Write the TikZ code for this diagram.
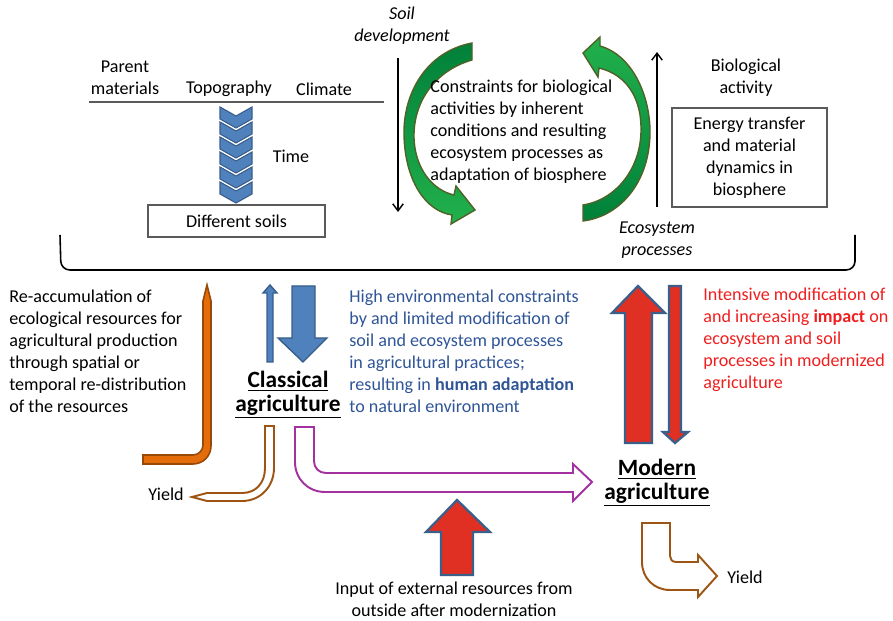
\documentclass[tikz,border=0pt]{standalone}
\usepackage{fontspec}
\setmainfont{Carlito}
\usetikzlibrary{arrows.meta,positioning}
\definecolor{chevblue}{RGB}{79,129,189}
\definecolor{chevedge}{RGB}{56,93,138}
\definecolor{arcdark}{RGB}{0,128,58}
\definecolor{arclight}{RGB}{34,177,76}
\definecolor{arcedge}{RGB}{79,98,40}
\definecolor{orangefill}{RGB}{228,108,10}
\definecolor{orangeedge}{RGB}{152,72,7}
\definecolor{yieldbrown}{RGB}{158,84,18}
\definecolor{flowpurple}{RGB}{163,50,160}
\definecolor{modred}{RGB}{224,48,36}
\definecolor{modedge}{RGB}{58,95,138}
\definecolor{classtext}{RGB}{47,85,151}
\definecolor{modtext}{RGB}{240,30,30}
\definecolor{boxgrey}{RGB}{90,90,90}

\begin{document}
\begin{tikzpicture}[x=0.02cm, y=-0.02cm,
    txt/.style={font=\fontsize{10.3}{12.5}\selectfont, inner sep=0pt, align=center},
    txtit/.style={txt, font=\fontsize{10.3}{12.5}\selectfont\itshape},
    txtleft/.style={txt, align=left, anchor=west},
    headline/.style={font=\fontsize{13.3}{13.6}\selectfont\bfseries, inner sep=0pt, align=center},
    infobox/.style={draw=boxgrey, line width=0.6pt},
    greenarc/.style={draw=arcedge, line width=0.8pt},
    bluearr/.style={fill=chevblue, draw=chevedge, line width=0.8pt},
    redarr/.style={fill=modred, draw=modedge, line width=1.3pt},
    hollowarr/.style={fill=white, line width=1.1pt},
    thinarr/.style={-{Straight Barb[length=4pt,width=6pt]}, line width=0.8pt}
]
\useasboundingbox (0,0) rectangle (893,621);

% soil formation factors
\node[txt] (parent) at (125,78) {Parent\\materials};
\node[txt] (topo) at (229,89) {Topography};
\node[txt] (climate) at (324,89) {Climate};
\coordinate (factl) at (89,102);
\coordinate (factr) at (384,102);
\draw[line width=0.7pt, boxgrey] (factl) -- (factr);
\foreach \i in {0,...,5} {
  \pgfmathsetmacro{\cy}{107+15*\i}
  \draw[bluearr, line width=0.6pt] (220,\cy) -- (236,\cy+9) -- (252,\cy) -- (252,\cy+12)
    -- (236,\cy+21) -- (220,\cy+12) -- cycle;
}
\node[txt] (time) at (291,156) {Time};
\node[infobox, txt, minimum width=3.54cm, minimum height=0.64cm] (soils) at (236.5,221) {Different soils};

% soil development and ecosystem cycle
\node[txtit] (soildev) at (402,26) {Soil\\development};
\coordinate (sdstart) at (398,58);
\coordinate (sdend) at (398,212);
\draw[thinarr] (sdstart) -- (sdend);
\draw[greenarc, top color=arcdark, bottom color=arclight]
  (472,43) .. controls (425,52) and (403,95) .. (404,135)
  .. controls (405,180) and (425,211) .. (452,215)
  -- (451,224) -- (475,210) -- (456,186) -- (454,195)
  .. controls (432,190) and (415,168) .. (414,138)
  .. controls (413,100) and (437,70) .. (472,60) -- cycle;
\draw[greenarc, top color=arclight, bottom color=arcdark]
  (583,53) -- (600,37) -- (600,46)
  .. controls (632,55) and (650,95) .. (650,132)
  .. controls (650,180) and (622,216) .. (583,221)
  -- (583,205)
  .. controls (615,200) and (640,170) .. (641,132)
  .. controls (642,100) and (628,75) .. (599,68)
  -- (598,77) -- cycle;
\node[txtleft] (constraints) at (430,132) {Constraints for biological\\activities by inherent\\conditions and resulting\\ecosystem processes as\\adaptation of biosphere};
\coordinate (bastart) at (657,207);
\coordinate (baend) at (657,52);
\draw[thinarr] (bastart) -- (baend);
\node[txt] (bioact) at (746,78) {Biological\\activity};
\node[infobox, txt, minimum width=3.1cm, minimum height=1.98cm] (energy) at (749.5,157.5) {Energy transfer\\and material\\dynamics in\\biosphere};
\node[txtit] (ecoproc) at (657,240) {Ecosystem\\processes};

% bracket
\coordinate (brl) at (60,235);
\coordinate (brbl) at (61,270);
\coordinate (brbr) at (855,270);
\coordinate (brr) at (855,235);
\draw[line width=0.9pt, rounded corners=5pt] (brl) -- (brbl) -- (brbr) -- (brr);

% classical agriculture
\node[txtleft] (reaccum) at (9,351) {Re-accumulation of\\ecological resources for\\agricultural production\\through spatial or\\temporal re-distribution\\of the resources};
\draw[fill=orangefill, draw=orangeedge, line width=0.9pt]
  (143,455) -- (193,455) .. controls (198.5,455) and (203,450.5) .. (203,445)
  -- (203,301) -- (207,285) -- (211,301) -- (211,446)
  .. controls (211,456) and (203,464) .. (193,464) -- (143,464) -- cycle;
\draw[bluearr] (267,362) -- (267,293) -- (263,293) -- (270,285) -- (277,293)
  -- (273,293) -- (273,362) -- cycle;
\draw[bluearr] (292,286) -- (315,286) -- (315,338) -- (327,338) -- (303,362)
  -- (278,338) -- (292,338) -- cycle;
\node[headline] (classical) at (288,395) {\underline{Classical}\\\underline{agriculture}};
\node[txtleft, text=classtext] (classdesc) at (349,351) {High environmental constraints\\by and limited modification of\\soil and ecosystem processes\\in agricultural practices;\\resulting in \textbf{human adaptation}\\to natural environment};
\draw[hollowarr, draw=yieldbrown]
  (265,426) -- (274,426) -- (274,468) .. controls (274,486) and (261,501) .. (242,501)
  -- (207,501) -- (192,497) -- (207,493) -- (242,493)
  .. controls (256,493) and (265,483) .. (265,468) -- cycle;
\node[txt] (yieldl) at (166,494) {Yield};
\draw[hollowarr, draw=flowpurple]
  (295,427) -- (314,427) -- (314,461) .. controls (314,468) and (319,473) .. (326,473)
  -- (573,473) -- (573,464) -- (592,482) -- (573,501) -- (573,492) -- (325,492)
  .. controls (308,492) and (295,479) .. (295,462) -- cycle;

% modern agriculture
\draw[redarr] (625,443) -- (625,313) -- (612,313) -- (638,286) -- (665,313)
  -- (652,313) -- (652,443) -- cycle;
\draw[redarr] (669,286) -- (681,286) -- (681,432) -- (688,432) -- (675,443)
  -- (663,432) -- (669,432) -- cycle;
\node[txtleft, text=modtext] (moddesc) at (703,340) {Intensive modification of\\and increasing \textbf{impact} on\\ecosystem and soil\\processes in modernized\\agriculture};
\node[headline] (modern) at (657,483) {\underline{Modern}\\\underline{agriculture}};
\draw[redarr] (441,575) -- (441,532) -- (426,532) -- (457,500) -- (490,532)
  -- (473,532) -- (473,575) -- cycle;
\node[txt] (input) at (454,599) {Input of external resources from\\outside after modernization};
\draw[hollowarr, draw=yieldbrown]
  (642,523) -- (670,523) -- (670,556) .. controls (670,559) and (672,562) .. (676,562)
  -- (698,562) -- (698,555) -- (717,576) -- (698,597) -- (698,590) -- (670,590)
  .. controls (654,590) and (642,578) .. (642,562) -- cycle;
\node[txt] (yieldr) at (745,577) {Yield};
\end{tikzpicture}
\end{document}
